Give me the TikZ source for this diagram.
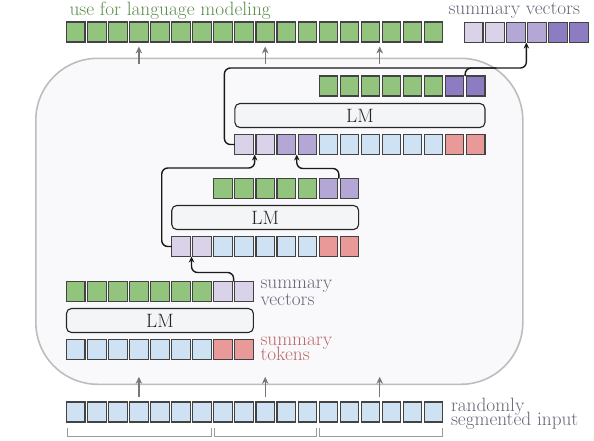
\documentclass[tikz,border=0pt]{standalone}
\usetikzlibrary{arrows.meta,calc}
\definecolor{cgreen}{HTML}{93C47D}
\definecolor{cblue}{HTML}{CFE2F3}
\definecolor{cred}{HTML}{EA9999}
\definecolor{clav}{HTML}{D9D2E9}
\definecolor{cmed}{HTML}{B4A7D6}
\definecolor{cdark}{HTML}{8E7CC3}
\definecolor{cedge}{HTML}{434343}
\definecolor{tgreen}{HTML}{5A8C4C}
\definecolor{tgray}{HTML}{646777}
\definecolor{tred}{HTML}{BA6868}
\definecolor{rimgray}{HTML}{BDBDBD}
\definecolor{panelfill}{HTML}{F9F9FC}
\definecolor{lmfill}{HTML}{F4F5F6}
\definecolor{arrgray}{HTML}{777777}
\definecolor{brkgray}{HTML}{9A9A9A}
\newcommand\mytightls{\lineskiplimit=-30pt\relax}
\newcommand\fontA{\fontsize{19.3}{16.5}\selectfont\mytightls}
\newcommand\fontB{\fontsize{19.3}{15.2}\selectfont\mytightls}
\newcommand\fontC{\fontsize{19.3}{14.6}\selectfont\mytightls}
\begin{document}
\begin{tikzpicture}[x=1pt,y=-1pt,
  cell/.style={draw=cedge,line width=1.1pt,minimum width=18.5pt,minimum height=20pt,inner sep=0pt,outer sep=0pt,anchor=north west},
  lmbox/.style={draw=black!85,line width=1.1pt,fill=lmfill,rounded corners=5pt,minimum height=24pt,inner sep=0pt,outer sep=0pt,anchor=north west,font=\fontsize{19.3}{22}\selectfont,text=black!85},
  lbl/.style={inner sep=0pt,outer sep=0pt,anchor=base west,font=\fontsize{19.3}{22}\selectfont},
  lbltwo/.style={inner sep=0pt,outer sep=0pt,anchor=north west,align=left},
  conn/.style={draw=black!90,line width=1.4pt,rounded corners=6pt},
  connarrow/.style={conn,-{Stealth[length=6pt,width=5.5pt]}},
  garrow/.style={draw=arrgray,line width=1.2pt,-{Stealth[length=7pt,width=6.5pt]}},
  brk/.style={draw=brkgray,line width=1pt},
  panel/.style={draw=rimgray,line width=1.6pt,fill=panelfill,rounded corners=62pt}
]
\useasboundingbox (0,0) rectangle (594,440);
\def\pp{21.05}
% panel
\node[panel,minimum width=487pt,minimum height=326pt,inner sep=0pt,anchor=north west] (panel) at (35,57.5) {};

% top row
\foreach \i in {0,...,17} \node[cell,fill=cgreen] (top\i) at ({66.5+\pp*\i},22) {};
% summary vectors (top right)
\foreach \c [count=\i from 0] in {clav,clav,cmed,cmed,cdark,cdark}
  \node[cell,fill=\c] (sv\i) at ({464.5+\pp*\i},22.5) {};

% stage 3
\foreach \c [count=\i from 0] in {cgreen,cgreen,cgreen,cgreen,cgreen,cgreen,cdark,cdark}
  \node[cell,fill=\c] (s3o\i) at ({234.9+\pp*(\i+4)},76) {};
\node[lmbox,minimum width={12*\pp*1pt-2.55pt}] (lm3) at (234.9,103.5) {LM};
\foreach \c [count=\i from 0] in {clav,clav,cmed,cmed,cblue,cblue,cblue,cblue,cblue,cblue,cred,cred}
  \node[cell,fill=\c] (s3i\i) at ({234.9+\pp*\i},134.5) {};

% stage 2
\foreach \c [count=\i from 0] in {cgreen,cgreen,cgreen,cgreen,cgreen,cmed,cmed}
  \node[cell,fill=\c] (s2o\i) at ({171.75+\pp*(\i+2)},178.5) {};
\node[lmbox,minimum width={9*\pp*1pt-2.55pt}] (lm2) at (171.75,205.5) {LM};
\foreach \c [count=\i from 0] in {clav,clav,cblue,cblue,cblue,cblue,cblue,cred,cred}
  \node[cell,fill=\c] (s2i\i) at ({171.75+\pp*\i},236.5) {};

% stage 1
\foreach \c [count=\i from 0] in {cgreen,cgreen,cgreen,cgreen,cgreen,cgreen,cgreen,clav,clav}
  \node[cell,fill=\c] (s1o\i) at ({66.5+\pp*\i},281.5) {};
\node[lmbox,minimum width={9*\pp*1pt-2.55pt}] (lm1) at (66.5,308.5) {LM};
\foreach \c [count=\i from 0] in {cblue,cblue,cblue,cblue,cblue,cblue,cblue,cred,cred}
  \node[cell,fill=\c] (s1i\i) at ({66.5+\pp*\i},339.5) {};

% bottom row
\foreach \i in {0,...,17} \node[cell,fill=cblue] (bot\i) at ({66.5+\pp*\i},402) {};

% labels
\node[lbl,text=tgreen] (lbllm) at (69.5,15) {use for language modeling};
\node[lbl,text=tgray] (lblsvtop) at (448.5,14.5) {summary vectors};
\node[lbltwo,text=tgray,font=\fontA] (lblsv) at (260.5,280.2) {summary\\vectors};
\node[lbltwo,text=tred,font=\fontB] (lblst) at (260.5,336.7) {summary\\tokens};
\node[lbltwo,text=tgray,font=\fontC] (lblri) at (451,397.8) {randomly\\segmented input};

% gray arrows
\draw[garrow] ($(top3.south)+(0,22)$) -- ($(top3.south)+(0,4.5)$);
\draw[garrow] ($(top9.south)+(0,22)$) -- ($(top9.south)+(0,4.5)$);
\draw[garrow] ($(top14.south east)+(0,22)$) -- ($(top14.south east)+(0,4.5)$);
\draw[garrow] ($(bot3.north)+(0,-5)$) -- ($(bot3.north)+(0,-25.2)$);
\draw[garrow] ($(bot9.north)+(0,-5)$) -- ($(bot9.north)+(0,-25.2)$);
\draw[garrow] ($(bot14.north east)+(0,-5)$) -- ($(bot14.north east)+(0,-25.2)$);

% brackets
\draw[brk] ($(bot0.south west)+(0.5,5.5)$) -- ++(0,8.5) -| ($(bot6.south east)+(0,5.5)$);
\draw[brk] ($(bot7.south west)+(0.5,5.5)$) -- ++(0,8.5) -| ($(bot11.south east)+(0,5.5)$);
\draw[brk] ($(bot12.south west)+(0.5,5.5)$) -- ++(0,8.5) -| ($(bot17.south east)+(0,5.5)$);

% black connectors
\coordinate (p1) at ($(s1o7.north east)!0.5!(s1o8.north west)$);
\coordinate (q1) at ($(s2i0.south east)!0.5!(s2i1.south west)$);
\draw[connarrow] (p1) -- ++(0,-9) -| (q1);

\coordinate (q2) at ($(s3i0.south east)!0.5!(s3i1.south west)$);
\draw[connarrow] (s2i0.west) -- ++(-10,0) |- ($(q2)+(0,13.5)$) -- (q2);

\coordinate (p3) at ($(s2o5.north east)!0.5!(s2o6.north west)$);
\coordinate (q3) at ($(s3i2.south east)!0.5!(s3i3.south west)$);
\draw[connarrow] (p3) -- ++(0,-10) -| (q3);

\coordinate (q4) at ($(sv2.south east)!0.5!(sv3.south west)$);
\draw[connarrow] (s3i0.west) -- ++(-10.5,0) |- ($(q4)+(0,25.5)$) -- (q4);

\coordinate (p5) at ($(s3o6.north east)!0.5!(s3o7.north west)$);
\draw[conn] (p5) |- ($(q4)+(-30,25.5)$);
\end{tikzpicture}
\end{document}
